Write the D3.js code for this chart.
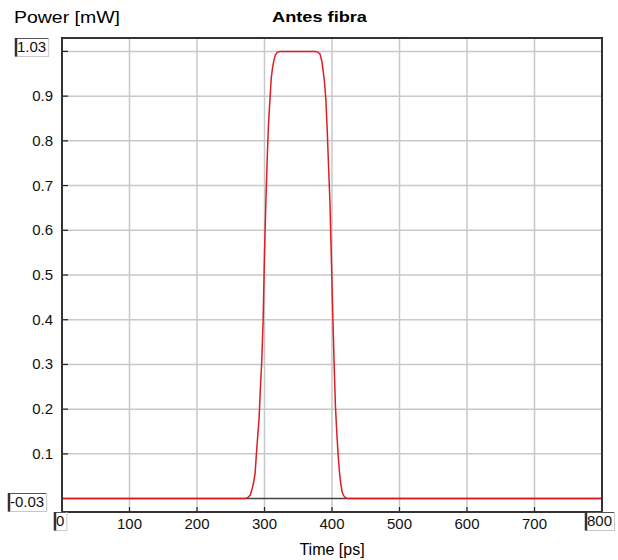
<!DOCTYPE html>
<html>
<head>
<meta charset="utf-8">
<script src="https://cdn.jsdelivr.net/npm/d3@7"></script>
<style>
	body { margin: 0; background: #fff; }
	svg { display: block; font-family: "Liberation Sans", Arial, sans-serif; }
	.tickLabel { font-size: 15px; fill: #111; }
	.endLabel { font-size: 15px; fill: #111; }
	.grid line { stroke: #c8c8c8; stroke-width: 1.5; }
</style>
</head>
<body>
<svg id="svgchart"></svg>
<script>
'use strict'

// pulse samples (time in ps, power in mW):
const pulseTime = [0, 272, 276, 279, 282, 284, 286, 288, 290, 292, 294, 296, 298, 300, 302, 304, 306, 308, 310, 312, 314, 316, 319, 323,
	340, 360, 375, 378, 382, 385, 387, 389, 391, 393, 395, 397, 399, 401, 403, 405, 407, 409, 411, 413, 415, 417, 420, 423, 800]
const pulsePower = [0, 0, 0.003, 0.008, 0.024, 0.037, 0.055, 0.10, 0.14, 0.18, 0.25, 0.31, 0.40, 0.55, 0.66, 0.76, 0.84, 0.89, 0.94, 0.965, 0.98, 0.992, 0.998, 1.0,
	1.0, 1.0, 1.0, 0.999, 0.995, 0.978, 0.955, 0.93, 0.89, 0.82, 0.74, 0.66, 0.54, 0.42, 0.31, 0.21, 0.15, 0.10, 0.06, 0.033, 0.015, 0.007, 0.002, 0, 0]

const xDomain = [0, 800]
const yDomain = [-0.03, 1.03]
const xTicks = [100, 200, 300, 400, 500, 600, 700]
const yTicks = [0.1, 0.2, 0.3, 0.4, 0.5, 0.6, 0.7, 0.8, 0.9, 1.0]
const yTickLabels = ['0.1', '0.2', '0.3', '0.4', '0.5', '0.6', '0.7', '0.8', '0.9']

const width = 618, height = 560
const margins = {top: 38, right: 16, bottom: 48, left: 62}
const chartWidth = width - margins.left - margins.right
const chartHeight = height - margins.top - margins.bottom

const x = d3.scaleLinear().domain(xDomain).range([0, chartWidth])
const y = d3.scaleLinear().domain(yDomain).range([chartHeight, 0])

const svg = d3.select('#svgchart')
	.attr('width', width)
	.attr('height', height)

const chart = svg.append('g')
	.attr('transform', 'translate(' + margins.left + ',' + margins.top + ')')

// grid:
const grid = chart.append('g').classed('grid', true)
grid.selectAll('line.v')
	.data(xTicks)
	.enter().append('line')
	.attr('x1', d => x(d)).attr('x2', d => x(d))
	.attr('y1', 0).attr('y2', chartHeight)
grid.selectAll('line.h')
	.data(yTicks)
	.enter().append('line')
	.attr('x1', 0).attr('x2', chartWidth)
	.attr('y1', d => y(d)).attr('y2', d => y(d))

// zero trace (dark, under the red one):
chart.append('line')
	.attr('x1', x(xDomain[0])).attr('x2', x(xDomain[1]))
	.attr('y1', y(0)).attr('y2', y(0))
	.attr('stroke', '#444').attr('stroke-width', 1.5)

// pulse:
const line = d3.line()
	.x((d, i) => x(pulseTime[i]))
	.y(d => y(d))
chart.append('path')
	.datum(pulsePower)
	.attr('d', line)
	.attr('fill', 'none')
	.attr('stroke', '#dc1e24')
	.attr('stroke-width', 1.5)

// inner tick marks:
chart.selectAll('line.xt')
	.data(xTicks)
	.enter().append('line')
	.attr('x1', d => x(d)).attr('x2', d => x(d))
	.attr('y1', chartHeight).attr('y2', chartHeight - 5)
	.attr('stroke', '#222').attr('stroke-width', 1.2)
chart.selectAll('line.yt')
	.data(yTicks)
	.enter().append('line')
	.attr('x1', 0).attr('x2', 6)
	.attr('y1', d => y(d)).attr('y2', d => y(d))
	.attr('stroke', '#222').attr('stroke-width', 1.2)

// frame:
chart.append('rect')
	.attr('width', chartWidth).attr('height', chartHeight)
	.attr('fill', 'none')
	.attr('stroke', '#333').attr('stroke-width', 2)

// tick labels:
chart.selectAll('text.xl')
	.data(xTicks)
	.enter().append('text')
	.classed('tickLabel', true)
	.attr('x', d => x(d))
	.attr('y', chartHeight + 17)
	.attr('text-anchor', 'middle')
	.text(d => d)
chart.selectAll('text.yl')
	.data(yTickLabels)
	.enter().append('text')
	.classed('tickLabel', true)
	.attr('x', -9)
	.attr('y', d => y(+d) + 5)
	.attr('text-anchor', 'end')
	.text(d => d)

// end value boxes (left/top dark edge, like an input field):
function endBox (label, left, top) {
	const g = svg.append('g').attr('transform', 'translate(' + left + ',' + top + ')')
	const t = g.append('text').classed('endLabel', true).attr('x', 2).attr('y', 14).text(label)
	const w = t.node().getComputedTextLength() + 4
	g.insert('rect', 'text')
		.attr('x', 0.5).attr('y', 0.5).attr('width', w).attr('height', 18)
		.attr('fill', '#fff').attr('stroke', '#c8c8c8')
	g.append('line').attr('x1', 0).attr('x2', w).attr('y1', 0.5).attr('y2', 0.5).attr('stroke', '#555')
	g.append('line').attr('x1', 1).attr('x2', 1).attr('y1', 0).attr('y2', 18.5).attr('stroke', '#333').attr('stroke-width', 2.5)
	return w
}
endBox('1.03', 15, margins.top)
endBox('-0.03', 8, margins.top + y(-0.03) - 19)
endBox('0', margins.left - 8, margins.top + chartHeight)
endBox('800', margins.left + x(800) - 17, margins.top + chartHeight)

// axis labels and title (glyphs stretched a little, as in the original):
svg.append('text')
	.attr('x', 14).attr('y', 23)
	.attr('textLength', 106).attr('lengthAdjust', 'spacingAndGlyphs')
	.style('font-size', '16px')
	.text('Power [mW]')
svg.append('text')
	.attr('x', 272).attr('y', 22)
	.attr('textLength', 95).attr('lengthAdjust', 'spacingAndGlyphs')
	.style('font-size', '15px').style('font-weight', 'bold')
	.text('Antes fibra')
svg.append('text')
	.attr('x', margins.left + chartWidth / 2).attr('y', height - 5)
	.attr('text-anchor', 'middle')
	.style('font-size', '16px')
	.text('Time [ps]')
</script>
</body>
</html>
